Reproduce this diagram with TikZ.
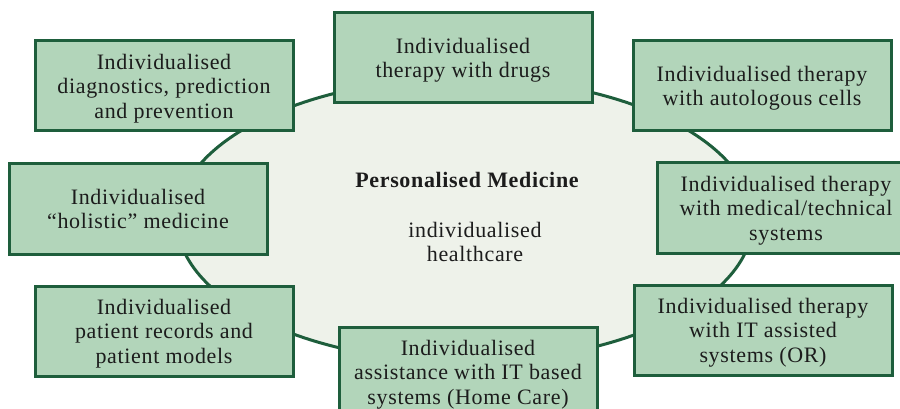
\documentclass[tikz,border=0pt]{standalone}
\usepackage{fontspec}
\setmainfont{Liberation Serif}[LetterSpace=3]
\usepackage{tikz}
\usetikzlibrary{shapes.geometric}
\definecolor{boxgreen}{HTML}{B2D5BA}
\definecolor{darkgreen}{HTML}{1E5E3C}
\definecolor{palegreen}{HTML}{EEF2EA}
\definecolor{inktext}{HTML}{1C1C1C}
\begin{document}
\begin{tikzpicture}
[x=1pt, y=-1pt, textfont/.style={text=inktext, align=center, font=\fontsize{22}{24.5}\selectfont},
 topic/.style={textfont, draw=darkgreen, line width=3pt, fill=boxgreen, minimum width=258pt, minimum height=90pt, inner sep=0pt, text depth=-2pt}]
\useasboundingbox (0,0) rectangle (900,409);
\node (core) [ellipse, draw=darkgreen, line width=3pt, fill=palegreen, minimum width=576pt, minimum height=284pt, inner sep=0pt] at (465,220) {};
\node (title) [textfont, font=\fontsize{22}{24.5}\selectfont\bfseries] at (467,180) {Personalised Medicine};
\node (care) [textfont] at (475,242) {individualised\\healthcare};
\node (diag) [topic] at (164,86) {Individualised\\diagnostics, prediction\\and prevention};
\node (drugs) [topic] at (463,58) {Individualised\\therapy with drugs};
\node (cells) [topic] at (762,86) {Individualised therapy\\with autologous cells};
\node (holistic) [topic] at (138,209) {Individualised\\``holistic'' medicine};
\node (medical) [topic] at (786,208) {Individualised therapy\\with medical/technical\\systems};
\node (records) [topic] at (164,331) {Individualised\\patient records and\\patient models};
\node (homecare) [topic] at (468,372) {Individualised\\assistance with IT based\\systems (Home Care)};
\node (theatre) [topic] at (763,330) {Individualised therapy\\with IT assisted\\systems (OR)};
\end{tikzpicture}
\end{document}
